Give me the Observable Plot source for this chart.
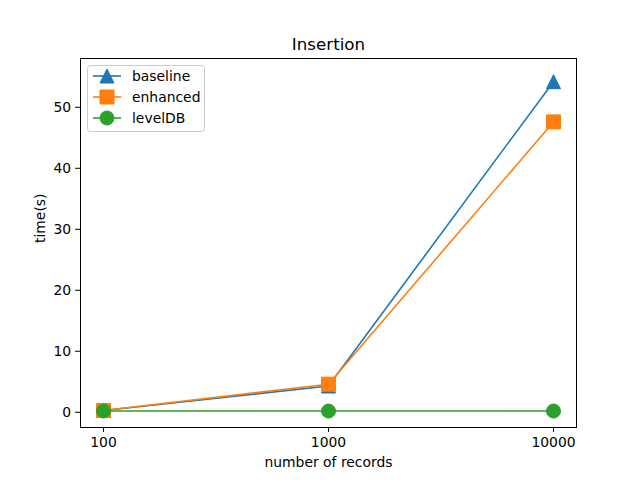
<!DOCTYPE html>
<html>
<head>
<meta charset="utf-8">
<script src="https://cdn.jsdelivr.net/npm/d3@7"></script>
<script src="https://cdn.jsdelivr.net/npm/@observablehq/plot@0.6"></script>
<style>
  body { margin: 0; background: #fff; }
  svg { font-family: "DejaVu Sans", sans-serif; }
</style>
</head>
<body>
<div id="chart"></div>
<script>
const records = ["100", "1000", "10000"];
const baseline = [0.3, 4.3, 54.2];
const enhanced = [0.3, 4.6, 47.6];
const levelDB = [0.2, 0.2, 0.2];
const seriesNames = ["baseline", "enhanced", "levelDB"];
const seriesColors = ["#1f77b4", "#ff7f0e", "#2ca02c"];
const yTicks = [0, 10, 20, 30, 40, 50];

const S = 7; // half marker size (px)
const triSym = {draw(ctx) { ctx.moveTo(0, -S); ctx.lineTo(-S, S); ctx.lineTo(S, S); ctx.closePath(); }};
const sqSym = {draw(ctx) { ctx.moveTo(-S, -S); ctx.lineTo(S, -S); ctx.lineTo(S, S); ctx.lineTo(-S, S); ctx.closePath(); }};
const ciSym = {draw(ctx) { ctx.moveTo(S, 0); ctx.arc(0, 0, S, 0, 2 * Math.PI); }};
const symbols = [triSym, sqSym, ciSym];

const allValues = [baseline, enhanced, levelDB];
const tables = allValues.map((vals, i) => records.map((r, j) => ({rec: r, t: vals[j], s: seriesNames[i]})));

const marks = [];
tables.forEach((tbl, i) => {
  marks.push(Plot.line(tbl, {x: "rec", y: "t", stroke: seriesColors[i], strokeWidth: 1.6}));
  marks.push(Plot.dot(tbl, {x: "rec", y: "t", symbol: () => symbols[i], fill: seriesColors[i], stroke: seriesColors[i], strokeWidth: 1, r: S}));
});

const fs = 13.9;
const plot = Plot.plot({
  width: 640,
  height: 480,
  marginLeft: 80,
  marginRight: 64,
  marginTop: 58,
  marginBottom: 53,
  style: {fontFamily: "DejaVu Sans, sans-serif", fontSize: fs + "px", color: "black", background: "white"},
  x: {type: "point", domain: records, padding: 0.1, align: 0.5},
  y: {domain: [-2.5, 58]},
  symbol: {type: "identity"},
  marks: [
    Plot.axisX({ticks: records, tickSize: 4.9, tickPadding: 4.5, fontSize: fs, label: null, stroke: "black"}),
    Plot.axisY({ticks: yTicks, tickSize: 4.9, tickPadding: 4.5, fontSize: fs, label: null, stroke: "black"}),
    ...marks,
    Plot.frame({stroke: "black", strokeWidth: 1}),
    Plot.text(["Insertion"], {frameAnchor: "top", dy: -20, fontSize: 16.7, fill: "black"}),
    Plot.text(["number of records"], {frameAnchor: "bottom", dy: 39, fontSize: fs, fill: "black"}),
    Plot.text(["time(s)"], {frameAnchor: "left", dx: -40, rotate: -90, fontSize: fs, fill: "black"})
  ]
});

document.getElementById("chart").appendChild(plot);

// legend
const svg = d3.select(plot);
const lg = svg.append("g").attr("text-anchor", "start");
lg.append("rect").attr("x", 87.5).attr("y", 65.5).attr("width", 117).attr("height", 66)
  .attr("rx", 3).attr("fill", "white").attr("fill-opacity", 0.8).attr("stroke", "#cccccc");
const shapes = [
  `M0,${-S}L${-S},${S}L${S},${S}Z`,
  `M${-S},${-S}L${S},${-S}L${S},${S}L${-S},${S}Z`,
  d3.symbol(d3.symbolCircle, Math.PI * S * S)()
];
seriesNames.forEach((name, i) => {
  const yy = 76 + i * 21;
  lg.append("line").attr("x1", 93).attr("x2", 121).attr("y1", yy).attr("y2", yy)
    .attr("stroke", seriesColors[i]).attr("stroke-width", 1.6);
  lg.append("path").attr("d", shapes[i]).attr("transform", `translate(107,${yy})`)
    .attr("fill", seriesColors[i]).attr("stroke", seriesColors[i]);
  lg.append("text").attr("x", 132).attr("y", yy).attr("dy", "0.35em")
    .attr("text-anchor", "start").attr("font-size", fs).attr("fill", "black").text(name);
});
</script>
</body>
</html>
